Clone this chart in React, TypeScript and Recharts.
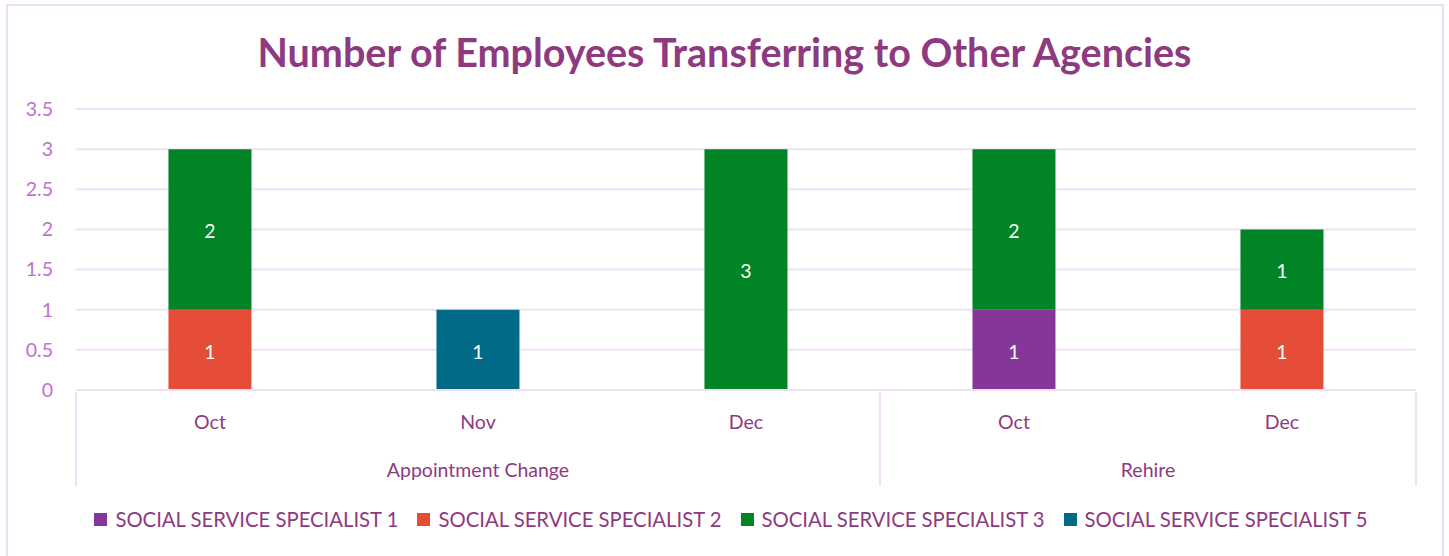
import React from 'react';
import { BarChart, Bar, XAxis, YAxis, CartesianGrid, LabelList } from 'recharts';

const categoryIds = ['ac-oct', 'ac-nov', 'ac-dec', 'rh-oct', 'rh-dec'];
const months = ['Oct', 'Nov', 'Dec', 'Oct', 'Dec'];
const groups = ['Appointment Change', 'Appointment Change', 'Appointment Change', 'Rehire', 'Rehire'];
const sss1 = [null, null, null, 1, null];
const sss2 = [1, null, null, null, 1];
const sss3 = [2, null, 3, 2, 1];
const sss5 = [null, 1, null, null, null];
const seriesKeys = ['sss1', 'sss2', 'sss3', 'sss5'];
const seriesNames = [
  'SOCIAL SERVICE SPECIALIST 1',
  'SOCIAL SERVICE SPECIALIST 2',
  'SOCIAL SERVICE SPECIALIST 3',
  'SOCIAL SERVICE SPECIALIST 5',
];
const seriesColors = ['#843798', '#E64D38', '#008426', '#006A87'];
const yTicks = [0, 0.5, 1, 1.5, 2, 2.5, 3, 3.5];
const title = 'Number of Employees Transferring to Other Agencies';

const data = categoryIds.map((id, i) => ({
  id,
  month: months[i],
  group: groups[i],
  sss1: sss1[i],
  sss2: sss2[i],
  sss3: sss3[i],
  sss5: sss5[i],
}));

const W = 1449;
const H = 556;
const MARGIN = { top: 109, right: 33, bottom: 0, left: 0 };
const YW = 76;
const FONT = 'Lato, "Noto Sans", sans-serif';
const GRID = '#F0DFF5';
const DARK = '#8E3A80';
const LIGHT = '#C06FD0';
const plotWidth = W - MARGIN.left - MARGIN.right - YW;
const band = plotWidth / data.length;

const MonthTick = (props: any) => {
  const { x, y, payload } = props;
  const idx = payload.index;
  return (
    <text x={x} y={y + 37} textAnchor="middle" fill={DARK} fontSize={19.5} fontFamily={FONT}>
      {months[idx]}
    </text>
  );
};

const GroupTick = (props: any) => {
  const { x, y, payload } = props;
  const idx = payload.index;
  const g = groups[idx];
  const isFirst = idx === 0 || groups[idx - 1] !== g;
  if (!isFirst) return <g />;
  let last = idx;
  while (last + 1 < groups.length && groups[last + 1] === g) last++;
  const count = last - idx + 1;
  const cx = x + ((count - 1) * band) / 2;
  const left = x - band / 2;
  const right = x + (count - 0.5) * band;
  const isLastGroup = last === groups.length - 1;
  return (
    <g>
      <line x1={left} x2={left} y1={y - 46} y2={y + 48} stroke={GRID} strokeWidth={2} />
      {isLastGroup && <line x1={right} x2={right} y1={y - 46} y2={y + 48} stroke={GRID} strokeWidth={2} />}
      <text x={cx} y={y + 39} textAnchor="middle" fill={DARK} fontSize={19.5} fontFamily={FONT}>
        {g}
      </text>
    </g>
  );
};

const labelFmt = (v: any) => (v == null || v === 0 ? '' : v);

export default function App() {
  return (
    <div style={{ position: 'absolute', left: 0, top: 0, width: W, height: H, background: '#fff', overflow: 'hidden' }}>
      <div
        style={{
          position: 'absolute',
          left: 6,
          top: 4,
          width: 1438,
          height: 560,
          border: '2px solid #EFDDF5',
          boxSizing: 'border-box',
        }}
      />
      <div
        style={{
          position: 'absolute',
          left: 0,
          top: 27,
          width: W,
          textAlign: 'center',
          fontFamily: FONT,
          fontWeight: 700,
          fontSize: 39.5,
          color: DARK,
          lineHeight: '50px',
        }}
      >
        {title}
      </div>
      <div style={{ position: 'absolute', left: 0, top: 0 }}>
        <BarChart width={W} height={H - 60} data={data} margin={MARGIN} barCategoryGap="34.5%">
          <CartesianGrid vertical={false} stroke={GRID} strokeWidth={2} />
          <YAxis
            width={YW}
            domain={[0, 3.5]}
            ticks={yTicks}
            axisLine={false}
            tickLine={false}
            tickSize={0}
            tickMargin={23}
            tick={{ fill: LIGHT, fontSize: 19.5, fontFamily: FONT }}
          />
          <XAxis
            dataKey="id"
            height={46}
            axisLine={{ stroke: GRID, strokeWidth: 2 }}
            tickLine={false}
            tickSize={0}
            tick={<MonthTick />}
            interval={0}
          />
          <XAxis
            xAxisId="grp"
            dataKey="id"
            height={60}
            axisLine={false}
            tickLine={false}
            tickSize={0}
            tick={<GroupTick />}
            interval={0}
          />
          {seriesKeys.map((k, i) => (
            <Bar key={k} dataKey={k} stackId="a" fill={seriesColors[i]} isAnimationActive={false} name={seriesNames[i]}>
              <LabelList dataKey={k} position="center" fill="#fff" fontSize={19.5} fontFamily={FONT} formatter={labelFmt} dy={2} />
            </Bar>
          ))}
        </BarChart>
      </div>
      <div
        style={{
          position: 'absolute',
          left: 0,
          top: 507,
          width: W,
          display: 'flex',
          justifyContent: 'center',
          fontFamily: FONT,
          fontSize: 20.3,
          color: DARK,
          paddingLeft: 32,
          boxSizing: 'border-box',
        }}
      >
        {seriesNames.map((n, i) => (
          <div key={n} style={{ display: 'flex', alignItems: 'center', marginRight: 19 }}>
            <span style={{ display: 'inline-block', width: 13, height: 13, background: seriesColors[i], marginRight: 8 }} />
            <span>{n}</span>
          </div>
        ))}
      </div>
    </div>
  );
}
